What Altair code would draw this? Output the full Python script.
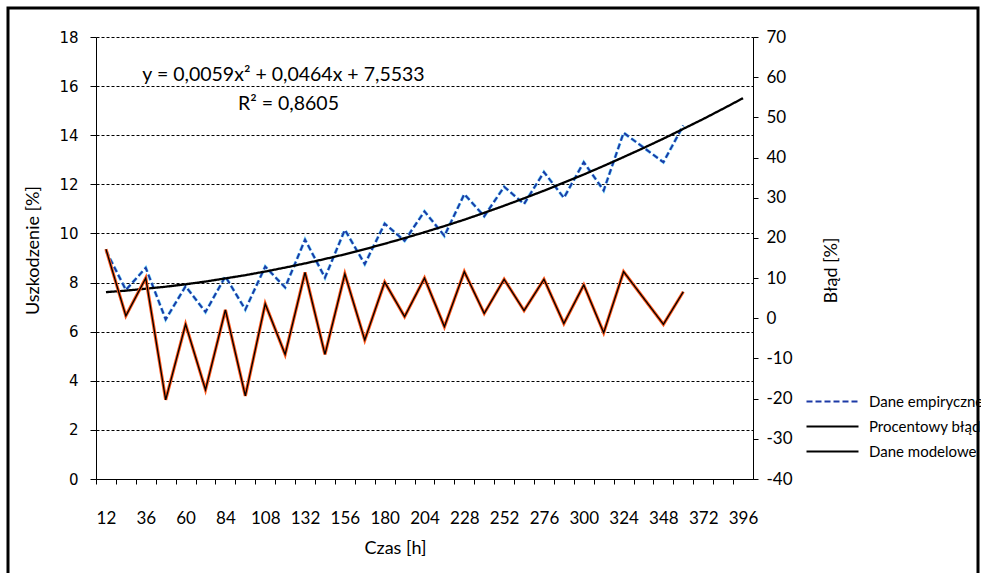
import altair as alt
import pandas as pd

# ---------------- data ----------------
time_emp = [12, 24, 36, 48, 60, 72, 84, 96, 108, 120, 132, 144, 156, 168, 180,
            192, 204, 216, 228, 240, 252, 264, 276, 288, 300, 312, 324, 348, 360]
emp = [9.30, 7.70, 8.60, 6.50, 7.85, 6.80, 8.25, 6.90, 8.65, 7.80, 9.75, 8.20,
       10.15, 8.75, 10.40, 9.70, 10.90, 9.90, 11.60, 10.70, 11.90, 11.20, 12.50,
       11.45, 12.90, 11.75, 14.10, 12.90, 14.40]
err = [17.2, 0.6, 10.0, -20.3, -1.5, -17.8, 2.1, -19.3, 3.6, -9.0, 11.4, -9.0,
       11.0, -5.4, 9.0, 0.4, 10.0, -2.1, 11.6, 1.2, 9.7, 1.9, 9.7, -1.3, 8.3,
       -3.6, 11.6, -1.5, 6.6]
time_model = [12, 24, 36, 48, 60, 72, 84, 96, 108, 120, 132, 144, 156, 168, 180,
              192, 204, 216, 228, 240, 252, 264, 276, 288, 300, 312, 324, 336, 348,
              360, 372, 384, 396]
model = [7.61, 7.67, 7.75, 7.83, 7.93, 8.04, 8.17, 8.30, 8.45, 8.61, 8.78, 8.96,
         9.15, 9.36, 9.58, 9.81, 10.05, 10.30, 10.56, 10.84, 11.13, 11.43, 11.74,
         12.07, 12.40, 12.75, 13.11, 13.48, 13.86, 14.26, 14.66, 15.08, 15.51]
x_labels = [12, 36, 60, 84, 108, 132, 156, 180, 204, 228, 252, 276, 300, 324,
            348, 372, 396]
y_left_ticks = [0, 2, 4, 6, 8, 10, 12, 14, 16, 18]
y_right_ticks = [-40, -30, -20, -10, 0, 10, 20, 30, 40, 50, 60, 70]
series = ["Dane empiryczne", "Procentowy błąd", "Dane modelowe"]
annot_text = ["y = 0,0059x² + 0,0464x + 7,5533", "R² = 0,8605"]
annot_time = [119, 122]
annot_val = [16.45, 15.27]

df_emp = pd.DataFrame({"time": time_emp, "emp": emp, "series": series[0]})
df_err = pd.DataFrame({"time": time_emp, "err": err, "series": series[1]})
df_model = pd.DataFrame({"time": time_model, "model": model, "series": series[2]})
df_annot = pd.DataFrame({"time": annot_time, "emp": annot_val, "label": annot_text})

# ---------------- layout ----------------
W, H = 657, 442
half = W / (402 - 6) * 6
tick_vals = time_model + [408]
label_expr = "indexof([" + ",".join(str(v) for v in x_labels) + "], datum.value) >= 0 ? datum.label : ''"

FONT = "Lato"

X = alt.X("time:Q",
          scale=alt.Scale(domain=[6, 402], nice=False, zero=False),
          axis=alt.Axis(values=tick_vals, tickOffset=-half, labelOffset=half,
                        labelExpr=label_expr, labelFlush=False, labelOverlap=False,
                        format="d", tickSize=5, labelPadding=26,
                        labelFont=FONT, labelFontSize=17,
                        title="Czas [h]", titleFont=FONT, titleFontSize=18,
                        titleFontWeight="normal", titleX=299, titleY=69,
                        titleAlign="center", titleBaseline="middle", grid=False))

left_axis = alt.Axis(values=y_left_ticks, grid=True, gridDash=[3, 2], gridColor="#000",
                     gridOpacity=1, gridWidth=1, tickSize=6, labelPadding=12,
                     labelFont="DejaVu Sans", labelFontSize=15,
                     title="Uszkodzenie [%]", titleFont=FONT, titleFontSize=18,
                     titleFontWeight="normal", titleAngle=270, titleX=-63, titleY=213,
                     titleAlign="center", titleBaseline="middle")
left_scale = alt.Scale(domain=[0, 18], nice=False, zero=False)

right_axis = alt.Axis(values=y_right_ticks, orient="right", grid=False, tickSize=5,
                      labelPadding=8, labelFont=FONT, labelFontSize=17,
                      labelExpr="datum.value < 0 ? '-' + abs(datum.value) : '' + datum.value",
                      title="Błąd [%]", titleFont=FONT, titleFontSize=18,
                      titleFontWeight="normal", titleAngle=270, titleX=78, titleY=233,
                      titleAlign="center", titleBaseline="middle")
right_scale = alt.Scale(domain=[-40, 70], nice=False, zero=False)

legend = alt.Legend(title=None, orient="none", legendX=729, legendY=357,
                    symbolType="M-5.2,0L5.2,0", symbolSize=100, symbolStrokeWidth=2,
                    labelOffset=29, labelFont=FONT, labelFontSize=15, rowPadding=9,
                    labelLimit=300)
color = alt.Color("series:N", scale=alt.Scale(domain=series, range=["#1c3aa6", "#000000", "#000000"]),
                  legend=legend)
dash = alt.StrokeDash("series:N", scale=alt.Scale(domain=series, range=[[6, 3], [1, 0], [1, 0]]),
                      legend=legend)

# ---------------- left-axis layers ----------------
emp_halo = alt.Chart(df_emp).mark_line(color="#7fe0ff", strokeWidth=3.2, strokeDash=[6, 3]).encode(
    x=X, y=alt.Y("emp:Q", scale=left_scale, axis=left_axis))
emp_line = alt.Chart(df_emp).mark_line(strokeWidth=2).encode(
    x=X, y=alt.Y("emp:Q", scale=left_scale, axis=left_axis), color=color, strokeDash=dash)
model_line = alt.Chart(df_model).mark_line(strokeWidth=2.3).encode(
    x=X, y=alt.Y("model:Q", scale=left_scale, axis=left_axis), color=color, strokeDash=dash)
annot = alt.Chart(df_annot).mark_text(font=FONT, fontSize=19.5, align="center", baseline="middle",
                                      color="#000").encode(
    x=X, y=alt.Y("emp:Q", scale=left_scale, axis=left_axis), text="label:N")
frame = alt.Chart(pd.DataFrame({"k": [0]})).mark_rect(fill="transparent", stroke="#000", strokeWidth=3).encode(
    x=alt.value(-88), x2=alt.value(882), y=alt.value(-29), y2=alt.value(545))

left = alt.layer(emp_halo, emp_line, model_line, annot, frame)

# ---------------- right-axis layers ----------------
err_under = alt.Chart(df_err).mark_line(color="#ff5a1e", strokeWidth=3.2).encode(
    x=X, y=alt.Y("err:Q", scale=right_scale, axis=right_axis))
err_line = alt.Chart(df_err).mark_line(strokeWidth=1.3).encode(
    x=X, y=alt.Y("err:Q", scale=right_scale, axis=right_axis), color=color, strokeDash=dash)
right = alt.layer(err_under, err_line)

chart = alt.layer(left, right).resolve_scale(y="independent").properties(
    width=W, height=H,
    padding={"left": 96, "top": 37, "right": 228, "bottom": 94},
    autosize=alt.AutoSizeParams(type="none"),
    background="white",
).configure_view(stroke=None).configure_axis(
    domainColor="#000", tickColor="#000", labelColor="#000", titleColor="#000", domainWidth=1
)

chart.save("out.html", embed_options={"renderer": "svg", "actions": False})
